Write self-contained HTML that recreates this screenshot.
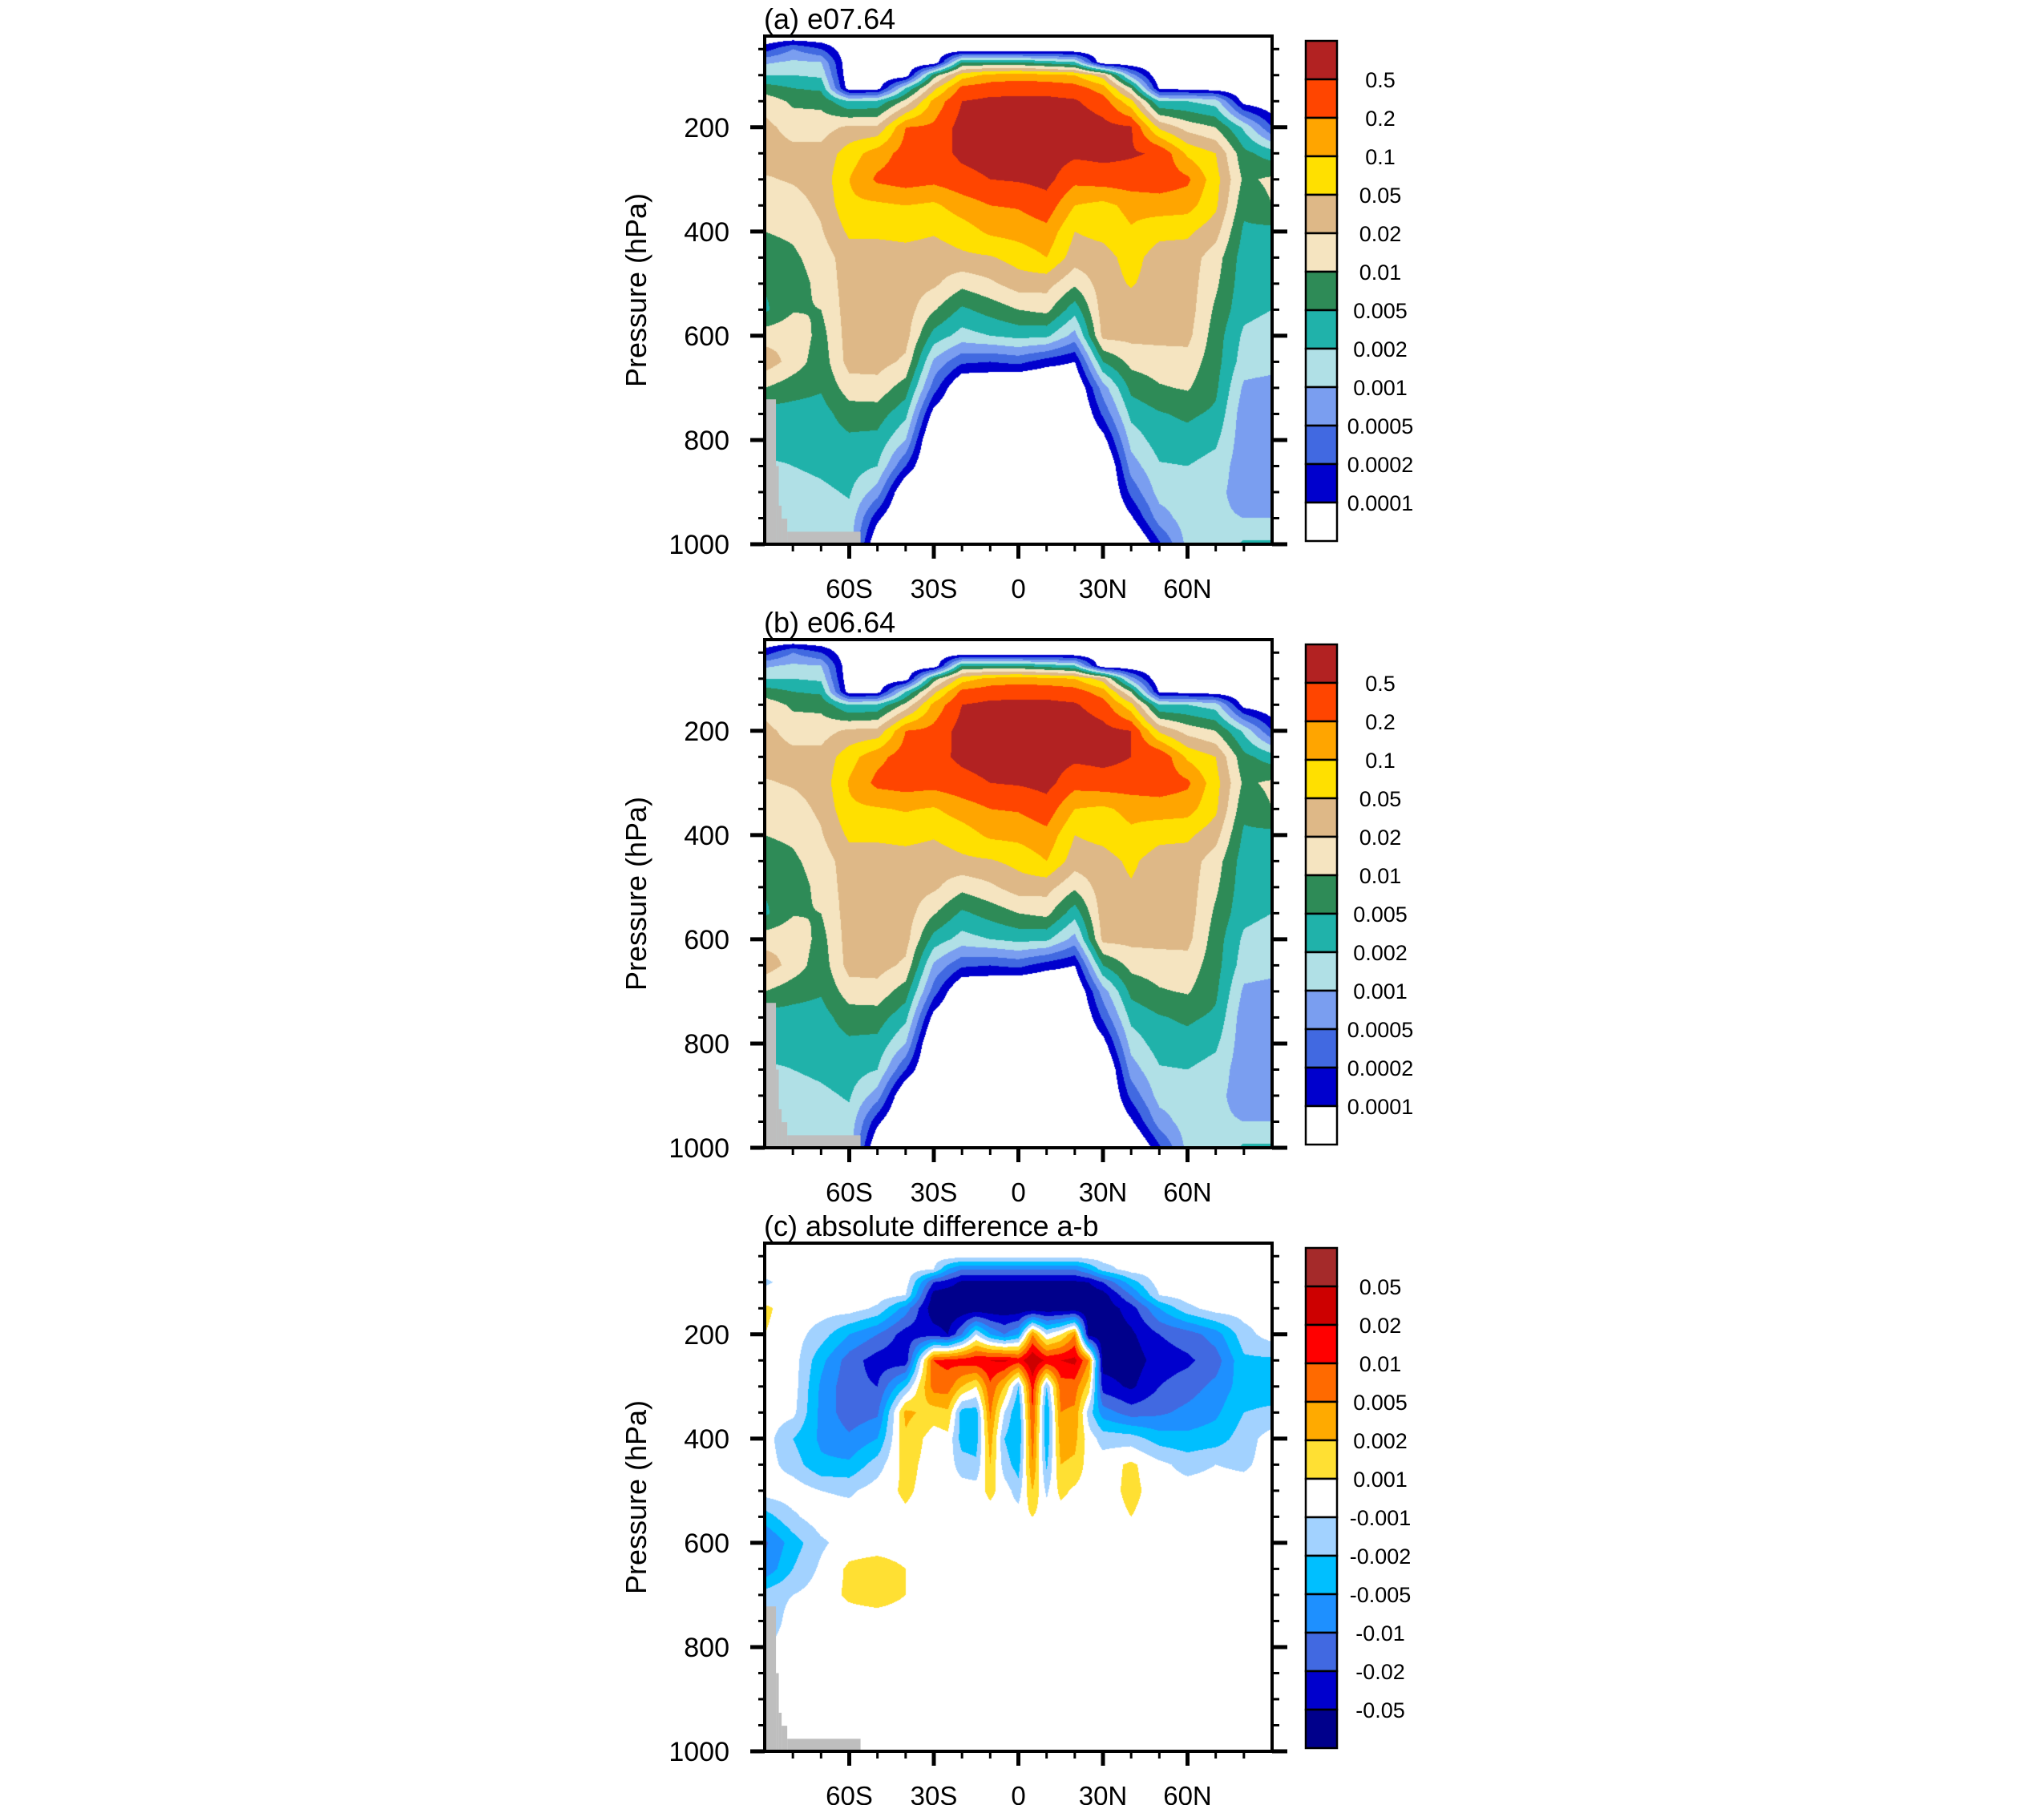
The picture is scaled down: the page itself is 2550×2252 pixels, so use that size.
<!DOCTYPE html>
<html><head><meta charset="utf-8">
<style>
html,body{margin:0;padding:0;background:#fff;}
#wrap{position:relative;width:2550px;height:2252px;overflow:hidden;background:#fff;}
canvas{position:absolute;}
svg{position:absolute;left:0;top:0;}
text{font-family:"Liberation Sans",sans-serif;fill:#000;}
</style></head>
<body>
<div id="wrap">
<canvas id="cA" width="633" height="634" style="left:954px;top:45px"></canvas>
<canvas id="cB" width="633" height="634" style="left:954px;top:798px"></canvas>
<canvas id="cC" width="633" height="634" style="left:954px;top:1551px"></canvas>
<svg id="ov" width="2550" height="2252" xmlns="http://www.w3.org/2000/svg"></svg>
</div>
<script>
// ---------- data ----------
const P_LEVELS=[25,50,75,100,125,150,200,250,300,350,400,450,500,550,600,650,700,750,800,850,900,950,1000];
const LAT_AB=[-90,-80,-70,-60,-50,-40,-30,-20,-10,0,10,20,30,40,50,60,70,80,90];
const LAT_C=[-90,-80,-70,-60,-50,-40,-30,-25,-20,-15,-10,-5,0,5,10,15,20,25,30,40,50,60,70,80,90];
// level-index values per latitude column (rows follow P_LEVELS)
const fieldA=[
[0,1.5,3.8,5.0,6.5,7.6,8.3,8.5,7.9,7.4,7.0,6.5,6.1,5.8,7.6,8.6,7.0,5.5,5.5,4.8,4.5,4.5,4.5],
[0,3.0,4.2,5.0,6.0,6.8,7.6,8.3,8.1,7.6,7.2,6.8,6.5,6.9,7.8,7.6,6.4,5.6,5.4,5.0,4.6,4.3,4.2],
[0,2.0,4.0,4.8,5.8,6.7,7.6,8.3,8.4,8.2,7.9,7.5,7.3,7.0,6.6,6.4,6.1,5.6,5.5,5.2,4.8,4.6,4.5],
[0,0,0,0,0.3,5.0,8.2,9.5,10.0,9.8,9.2,8.5,8.5,8.5,8.5,8.4,7.5,6.5,5.8,5.5,5.1,4.7,4.5],
[0,0,0,0,0.5,5.2,8.2,10.5,11.2,9.8,9.2,8.5,8.5,8.5,8.5,8.4,7.6,6.5,5.7,5.0,3.5,1.3,-0.3],
[0,0,0,0.3,5.0,7.3,11.0,11.4,11.5,10.0,9.3,8.6,8.5,8.5,8.4,7.8,6.5,5.3,4.0,2.0,-0.5,-1,-1],
[0,0,0,6.5,8.7,10.3,11.2,11.6,11.3,9.8,9.1,8.5,8.2,7.1,5.6,3.8,2.5,0.5,-1,-1,-1,-1,-1],
[0,0,6.0,9.5,11.3,12.0,12.4,12.2,11.7,10.5,9.5,8.8,7.3,5.8,4.6,2.2,-0.5,-1,-1,-1,-1,-1,-1],
[0,0,6.0,10.3,11.6,12.2,12.6,12.4,12.0,11.0,10.2,8.9,7.8,6.4,5.0,2.0,-0.5,-1,-1,-1,-1,-1,-1],
[0,0,6.0,10.5,11.7,12.2,12.6,12.4,12.1,11.1,10.4,9.4,8.5,7.0,5.3,2.3,-1,-1,-1,-1,-1,-1,-1],
[0,0,5.5,10.3,11.7,12.2,12.6,12.5,12.3,11.6,10.7,10.0,8.4,7.3,5.2,1.5,-1,-1,-1,-1,-1,-1,-1],
[0,0,5.0,10.0,11.5,12.1,12.6,12.2,11.3,10.0,9.0,8.5,7.2,5.4,3.6,1.0,-0.5,-1,-1,-1,-1,-1,-1],
[0,0,0,8.5,10.5,11.5,12.3,12.3,11.5,9.7,9.3,8.6,8.5,8.5,8.3,6.0,3.5,2.2,0.5,-1,-1,-1,-1],
[0,0,0,3.5,7.0,9.3,12.1,12.1,11.6,10.3,9.9,9.4,9.1,8.5,8.3,7.3,6.3,5.3,4.4,3.5,2.3,0.8,-1],
[0,0,0,0,0.8,5.0,8.8,11.9,11.6,10.5,9.3,8.5,8.5,8.5,8.3,7.5,6.9,5.9,5.5,4.9,4.4,3.5,1.8],
[0,0,0,0,0.5,5.0,7.6,9.8,11.2,10.4,9.2,8.5,8.5,8.5,8.3,7.6,7.1,6.2,5.6,5.0,4.5,4.5,4.3],
[0,0,0,0,0.3,4.5,7.0,9.0,9.4,9.2,8.4,7.5,7.2,6.8,6.5,6.4,6.2,5.8,5.2,4.6,4.3,4.2,4.2],
[0,0,0,0,0,0.5,4.8,6.3,6.8,6.3,5.8,5.5,5.4,5.3,4.8,4.5,3.8,3.4,3.4,3.4,3.5,4.0,5.2],
[0,0,0,0,0,0,2.0,5.5,7.2,7.0,5.7,5.5,5.3,5.0,4.5,4.4,3.6,3.3,3.3,3.3,3.4,4.0,5.2]
];
const fieldB=[
[0,1.5,3.8,5.0,6.5,7.6,8.3,8.5,7.9,7.4,7.0,6.5,6.1,5.8,7.6,8.6,7.0,5.5,5.5,4.8,4.5,4.5,4.5],
[0,3.0,4.2,5.0,6.0,6.8,7.6,8.3,8.1,7.6,7.2,6.8,6.5,6.9,7.8,7.6,6.4,5.6,5.4,5.0,4.6,4.3,4.2],
[0,2.0,4.0,4.8,5.8,6.7,7.6,8.3,8.4,8.2,7.9,7.5,7.3,7.0,6.6,6.4,6.1,5.6,5.5,5.2,4.8,4.6,4.5],
[0,0,0,0,0.3,5.0,8.2,9.6,10.1,9.8,9.2,8.5,8.5,8.5,8.5,8.4,7.5,6.5,5.8,5.5,5.1,4.7,4.5],
[0,0,0,0,0.5,5.2,8.3,10.7,11.3,9.9,9.2,8.5,8.5,8.5,8.5,8.4,7.6,6.5,5.7,5.0,3.5,1.3,-0.3],
[0,0,0,0.3,5.0,7.3,11.0,11.5,11.5,10.1,9.3,8.6,8.5,8.5,8.4,7.8,6.5,5.3,4.0,2.0,-0.5,-1,-1],
[0,0,0,6.5,8.7,10.3,11.3,11.7,11.4,9.9,9.1,8.5,8.2,7.1,5.6,3.8,2.5,0.5,-1,-1,-1,-1,-1],
[0,0,6.0,9.5,11.3,12.0,12.4,12.2,11.7,10.5,9.5,8.8,7.3,5.8,4.6,2.2,-0.5,-1,-1,-1,-1,-1,-1],
[0,0,6.0,10.3,11.6,12.2,12.6,12.4,12.0,11.0,10.2,8.9,7.8,6.4,5.0,2.0,-0.5,-1,-1,-1,-1,-1,-1],
[0,0,6.0,10.5,11.7,12.2,12.6,12.4,12.1,11.1,10.3,9.3,8.5,7.0,5.3,2.3,-1,-1,-1,-1,-1,-1,-1],
[0,0,5.5,10.3,11.7,12.2,12.6,12.5,12.3,11.6,10.7,10.0,8.4,7.3,5.2,1.5,-1,-1,-1,-1,-1,-1,-1],
[0,0,5.0,10.0,11.5,12.1,12.6,12.2,11.4,10.0,9.0,8.5,7.2,5.4,3.6,1.0,-0.5,-1,-1,-1,-1,-1,-1],
[0,0,0,8.5,10.5,11.5,12.3,12.3,11.6,9.8,9.3,8.6,8.5,8.5,8.3,6.0,3.5,2.2,0.5,-1,-1,-1,-1],
[0,0,0,3.5,7.0,9.3,12.0,12.0,11.6,10.3,9.8,9.2,8.9,8.5,8.3,7.3,6.3,5.3,4.4,3.5,2.3,0.8,-1],
[0,0,0,0,0.8,5.0,8.8,11.9,11.6,10.5,9.3,8.5,8.5,8.5,8.3,7.5,6.9,5.9,5.5,4.9,4.4,3.5,1.8],
[0,0,0,0,0.5,5.0,7.6,9.8,11.2,10.4,9.2,8.5,8.5,8.5,8.3,7.6,7.1,6.2,5.6,5.0,4.5,4.5,4.3],
[0,0,0,0,0.3,4.5,7.0,9.0,9.4,9.2,8.4,7.5,7.2,6.8,6.5,6.4,6.2,5.8,5.2,4.6,4.3,4.2,4.2],
[0,0,0,0,0,0.5,4.8,6.3,6.8,6.3,5.8,5.5,5.4,5.3,4.8,4.5,3.8,3.4,3.4,3.4,3.5,4.0,5.2],
[0,0,0,0,0,0,2.0,5.5,7.2,7.0,5.7,5.5,5.3,5.0,4.5,4.4,3.6,3.3,3.3,3.3,3.4,4.0,5.2]
];
const fieldC=[
[6.5,6.5,6.5,5.8,6.5,7.2,7.0,6.5,6.5,6.5,6.5,6.5,6.5,4.5,2.8,3.2,5.5,5.2,6.0,6.5,6.5,6.5,6.5],
[6.5,6.5,6.5,6.5,6.5,6.5,6.5,6.5,6.5,6.3,5.0,5.5,6.6,5.8,4.5,5.0,6.0,6.5,6.5,6.5,6.5,6.5,6.5],
[6.5,6.5,6.5,6.5,6.5,6.5,5.5,4.3,3.8,3.7,3.8,4.2,6.0,6.6,5.8,6.2,6.5,6.5,6.5,6.5,6.5,6.5,6.5],
[6.5,6.5,6.5,6.5,6.5,6.5,4.0,2.5,2.3,2.4,3.2,4.2,5.8,6.5,6.5,7.2,7.2,6.5,6.5,6.5,6.5,6.5,6.5],
[6.5,6.5,6.5,6.5,6.5,5.8,3.0,1.5,2.0,2.8,4.0,5.5,6.5,6.5,6.5,7.5,7.5,6.5,6.5,6.5,6.5,6.5,6.5],
[6.5,6.5,6.5,6.5,6.0,3.5,1.5,1.3,5.0,8.3,7.8,7.4,7.2,6.8,6.5,7.0,7.0,6.5,6.5,6.5,6.5,6.5,6.5],
[6.5,6.5,6.0,2.0,0.5,0.3,1.5,10.0,9.5,7.5,6.5,6.5,6.5,6.5,6.5,6.5,6.5,6.5,6.5,6.5,6.5,6.5,6.5],
[6.5,6.5,4.0,1.5,0.3,0.2,1.0,10.3,9.5,7.8,6.7,6.5,6.5,6.5,6.5,6.5,6.5,6.5,6.5,6.5,6.5,6.5,6.5],
[6.5,6.3,3.0,0.8,0.2,0.2,3.0,10.5,8.0,4.5,4.5,5.5,6.5,6.5,6.5,6.5,6.5,6.5,6.5,6.5,6.5,6.5,6.5],
[6.5,6.3,3.0,0.8,0.2,0.2,6.0,10.8,7.0,4.5,4.5,5.2,6.5,6.5,6.5,6.5,6.5,6.5,6.5,6.5,6.5,6.5,6.5],
[6.5,6.3,3.0,0.8,0.2,0.2,4.0,11.0,9.8,9.2,8.5,8.0,7.3,6.5,6.5,6.5,6.5,6.5,6.5,6.5,6.5,6.5,6.5],
[6.5,6.3,3.0,0.8,0.2,0.2,3.0,11.2,8.0,6.0,5.0,5.5,6.5,6.5,6.5,6.5,6.5,6.5,6.5,6.5,6.5,6.5,6.5],
[6.5,6.3,3.0,0.8,0.2,0.2,4.0,10.5,5.0,4.0,4.0,4.5,5.5,6.5,6.5,6.5,6.5,6.5,6.5,6.5,6.5,6.5,6.5],
[6.5,6.3,3.0,0.8,0.2,0.2,9.0,12.0,10.5,10.0,9.5,9.0,8.0,7.0,6.5,6.5,6.5,6.5,6.5,6.5,6.5,6.5,6.5],
[6.5,6.3,3.0,0.8,0.2,0.2,6.0,10.8,5.0,4.0,4.2,4.8,5.8,6.5,6.5,6.5,6.5,6.5,6.5,6.5,6.5,6.5,6.5],
[6.5,6.3,3.0,0.8,0.2,0.2,7.0,11.0,9.5,9.0,8.5,8.0,7.3,6.5,6.5,6.5,6.5,6.5,6.5,6.5,6.5,6.5,6.5],
[6.5,6.3,3.0,0.8,0.2,0.2,9.0,11.3,9.5,8.8,8.3,7.8,6.8,6.5,6.5,6.5,6.5,6.5,6.5,6.5,6.5,6.5,6.5],
[6.5,6.5,4.0,1.0,0.2,0.2,0.5,9.0,7.5,5.5,6.5,6.5,6.5,6.5,6.5,6.5,6.5,6.5,6.5,6.5,6.5,6.5,6.5],
[6.5,6.5,5.5,2.0,0.5,0.3,0.3,0.5,1.5,3.5,5.6,6.5,6.5,6.5,6.5,6.5,6.5,6.5,6.5,6.5,6.5,6.5,6.5],
[6.5,6.5,6.5,4.5,3.0,1.5,0.8,0.4,0.8,2.5,5.5,7.2,7.3,7.0,6.5,6.5,6.5,6.5,6.5,6.5,6.5,6.5,6.5],
[6.5,6.5,6.5,6.5,6.0,4.0,2.0,1.5,2.0,2.8,4.5,6.3,6.5,6.5,6.5,6.5,6.5,6.5,6.5,6.5,6.5,6.5,6.5],
[6.5,6.5,6.5,6.5,6.5,5.7,2.5,1.8,2.5,3.3,4.3,5.6,6.5,6.5,6.5,6.5,6.5,6.5,6.5,6.5,6.5,6.5,6.5],
[6.5,6.5,6.5,6.5,6.5,6.5,3.5,2.5,3.3,3.8,4.5,6.0,6.5,6.5,6.5,6.5,6.5,6.5,6.5,6.5,6.5,6.5,6.5],
[6.5,6.5,6.5,6.5,6.5,6.5,5.6,4.8,4.5,5.0,5.5,5.8,6.5,6.5,6.5,6.5,6.5,6.5,6.5,6.5,6.5,6.5,6.5],
[6.5,6.5,6.5,6.5,6.5,6.5,6.5,4.8,4.5,5.2,6.5,6.5,6.5,6.5,6.5,6.5,6.5,6.5,6.5,6.5,6.5,6.5,6.5]
];
// topography mask: [latStart, latEnd, pressureTop]
const maskLatStart=[-90,-86,-85,-84,-82];
const maskLatEnd=[-86,-85,-84,-82,-56];
const maskPTop=[722,850,926,951,976];
const colorsAB=["#ffffff","#0000CD","#4169E1","#7A9EF0","#B0E0E6","#20B2AA","#2E8B57","#F5E4C0","#DEB887","#FFE000","#FFA500","#FF4500","#B22222"];
const labelsAB=["0.0001","0.0002","0.0005","0.001","0.002","0.005","0.01","0.02","0.05","0.1","0.2","0.5"];
const colorsC=["#00008B","#0000CD","#4169E1","#1E90FF","#00BFFF","#A2D2FF","#ffffff","#FFE033","#FFAA00","#FF6A00","#FF0000","#CD0000","#A52A2A"];
const labelsC=["-0.05","-0.02","-0.01","-0.005","-0.002","-0.001","0.001","0.002","0.005","0.01","0.02","0.05"];
const yTickLabels=[200,400,600,800,1000];
const xTickLats=[-60,-30,0,30,60];
const xTickLabels=["60S","30S","0","30N","60N"];
const panelTitles=["(a) e07.64","(b) e06.64","(c) absolute difference a-b"];

// ---------- geometry ----------
const X0=954,X1=1587,PH=634,PTOPS=[45,798,1551];
function xS(lat){return X0+(lat+90)/180*(X1-X0);}
function yS(p,top){return top+(p-25)/975*PH;}
function findIdx(arr,v){for(let i=0;i<arr.length-1;i++){if(v<=arr[i+1])return i;}return arr.length-2;}
function sample(field,lats,lat,p){
  const i=findIdx(lats,lat),j=findIdx(P_LEVELS,p);
  const tx=Math.max(0,Math.min(1,(lat-lats[i])/(lats[i+1]-lats[i])));
  const ty=Math.max(0,Math.min(1,(p-P_LEVELS[j])/(P_LEVELS[j+1]-P_LEVELS[j])));
  const a=field[i][j],b=field[i+1][j],c=field[i][j+1],d=field[i+1][j+1];
  return a*(1-tx)*(1-ty)+b*tx*(1-ty)+c*(1-tx)*ty+d*tx*ty;
}
function hex(h){return [parseInt(h.substr(1,2),16),parseInt(h.substr(3,2),16),parseInt(h.substr(5,2),16)];}
function fill(id,field,lats,colors){
  const cv=document.getElementById(id),ctx=cv.getContext('2d');
  const W=cv.width,H=cv.height,img=ctx.createImageData(W,H),rgb=colors.map(hex);
  for(let y=0;y<H;y++){const p=25+(y+0.5)/H*975;
    for(let x=0;x<W;x++){const lat=-90+(x+0.5)/W*180;
      let k=Math.floor(sample(field,lats,lat,p));k=Math.max(0,Math.min(12,k));
      const o=(y*W+x)*4,c=rgb[k];img.data[o]=c[0];img.data[o+1]=c[1];img.data[o+2]=c[2];img.data[o+3]=255;}}
  ctx.putImageData(img,0,0);
}
fill('cA',fieldA,LAT_AB,colorsAB);
fill('cB',fieldB,LAT_AB,colorsAB);
fill('cC',fieldC,LAT_C,colorsC);

// ---------- overlay ----------
const NS="http://www.w3.org/2000/svg",svg=document.getElementById('ov');
function el(tag,attrs,parent){const e=document.createElementNS(NS,tag);for(const k in attrs)e.setAttribute(k,attrs[k]);(parent||svg).appendChild(e);return e;}
const panelNames=['a','b','c'];
PTOPS.forEach((top,pi)=>{
  const g=el('g',{});
  
  
  const bot=top+PH;
  for(let m=0;m<maskPTop.length;m++){
    const r=el('rect',{x:xS(maskLatStart[m]),y:yS(maskPTop[m],top),width:xS(maskLatEnd[m])-xS(maskLatStart[m]),height:bot-yS(maskPTop[m],top),fill:'#BEBEBE'},g);
    
    
  }
  for(let p=50;p<=1000;p+=50){
    const y=yS(p,top),maj=(p%200===0);
    el('line',{x1:X0-(maj?18:8),x2:X0,y1:y,y2:y,stroke:'#000','stroke-width':maj?5:3},g);
    el('line',{x1:X1,x2:X1+(maj?19:9),y1:y,y2:y,stroke:'#000','stroke-width':maj?5:3},g);
  }
  yTickLabels.forEach(v=>{
    const t=el('text',{x:910,y:yS(v,top)+12,'text-anchor':'end','font-size':'34'},g);t.textContent=v;
    
    
  });
  for(let lat=-80;lat<=80;lat+=10){
    const x=xS(lat),maj=(lat%30===0);
    el('line',{x1:x,x2:x,y1:bot,y2:bot+(maj?18:9),stroke:'#000','stroke-width':maj?5:3},g);
  }
  xTickLats.forEach((lat,i)=>{
    const t=el('text',{x:xS(lat),y:bot+67,'text-anchor':'middle','font-size':'33'},g);t.textContent=xTickLabels[i];
    
    
  });
  const fr=el('rect',{x:X0,y:top,width:X1-X0,height:PH,fill:'none',stroke:'#000','stroke-width':4},g);
  
  
  const yt=el('text',{x:0,y:0,'text-anchor':'middle','font-size':'36',transform:'translate(806,'+(top+PH/2)+') rotate(-90)'},g);
  yt.textContent='Pressure (hPa)';
  
  
  const tt=el('text',{x:953,y:top-9,'font-size':'36'},g);tt.textContent=panelTitles[pi];
  
  
  const cols=pi<2?colorsAB:colorsC,labs=pi<2?labelsAB:labelsC;
  const cbTop=top+6,bh=48,cbX=1629,cbW=39;
  const cb=el('g',{},g);
  
  
  for(let k=0;k<13;k++){
    const cls=12-k;
    const r=el('rect',{x:cbX,y:cbTop+k*bh,width:cbW,height:bh,fill:cols[cls],stroke:'#000','stroke-width':2.5},cb);
    
    
  }
  for(let k=1;k<=12;k++){
    const t=el('text',{x:1722,y:cbTop+k*bh+10,'text-anchor':'middle','font-size':'27'},cb);
    t.textContent=labs[12-k];
    
    
  }
});
</script>
</body></html>
